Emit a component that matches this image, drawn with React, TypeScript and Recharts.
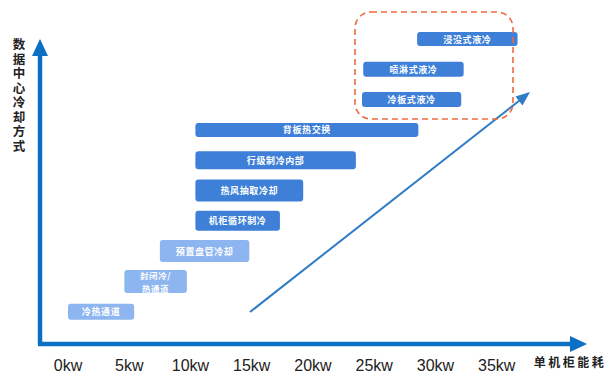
import React from "react";
import {
  BarChart,
  Bar,
  XAxis,
  YAxis,
  Cell,
  LabelList,
  Rectangle,
} from "recharts";

// cooling methods, top row first
const methods = [
  "浸没式液冷",
  "喷淋式液冷",
  "冷板式液冷",
  "背板热交换",
  "行级制冷内部",
  "热风抽取冷却",
  "机柜循环制冷",
  "预置盘管冷却",
  "封闭冷/热通道",
  "冷热通道",
];
// power range per rack (kW) each method covers
const rangeStart = [28.5, 24.1, 24.0, 10.4, 10.4, 10.4, 10.4, 7.5, 4.6, 0];
const rangeEnd = [36.7, 32.3, 32.1, 28.6, 23.5, 19.2, 17.3, 14.8, 9.7, 5.4];
const xTicks = [0, 5, 10, 15, 20, 25, 30, 35];

const data = methods.map((name, i) => ({
  name,
  range: [rangeStart[i], rangeEnd[i]],
}));

const DARK = "#3E7FD8";
const LIGHT = "#8DB5EF";
const AXIS = "#0B70C3";
const lightFrom = 7; // the three older air-flow methods are drawn lighter
const rowThickness = [14, 15, 15, 14, 18, 22, 20, 22, 23, 16];

const BarShape = (props: any) => {
  const { x, y, width, height, index, fill } = props;
  const h = rowThickness[index] ?? height;
  const cy = y + height / 2;
  return (
    <Rectangle
      x={x}
      y={cy - h / 2}
      width={width}
      height={h}
      radius={3}
      fill={fill}
    />
  );
};

const BarLabel = (props: any) => {
  const { x, y, width, height, value } = props;
  const text = String(value);
  let fs = 9;
  const cx = x + width / 2;
  const cy = y + height / 2;
  let lines = [text];
  if (text.length * (fs + 0.6) > width - 6) {
    const cut = Math.ceil(text.length / 2);
    lines = [text.slice(0, cut), text.slice(cut)];
    fs = 8.5;
  }
  const lh = 12.5;
  const top = cy - ((lines.length - 1) * lh) / 2;
  return (
    <g>
      {lines.map((l, i) => (
        <text
          key={i}
          x={cx}
          y={top + i * lh}
          textAnchor="middle"
          dominantBaseline="central"
          fill="#fff"
          fontSize={fs}
          fontWeight={700}
          letterSpacing={0.6}
          fontFamily="'Noto Sans CJK SC', sans-serif"
        >
          {l}
        </text>
      ))}
    </g>
  );
};

const yTitle = "数据中心冷却方式";

export default function App() {
  return (
    <div style={{ position: "absolute", left: 0, top: 0, width: 609, height: 374, background: "#fff" }}>
      <BarChart
        width={609}
        height={374}
        data={data}
        layout="vertical"
        barCategoryGap={0}
        margin={{ top: 24, right: 51, left: 68, bottom: 0 }}
      >
        <XAxis
          type="number"
          domain={[0, 40]}
          ticks={xTicks}
          tickFormatter={(v) => `${v}kw`}
          axisLine={false}
          tickLine={false}
          tickSize={0}
          tickMargin={33}
          height={47}
          interval={0}
          tick={{ fontSize: 16, fill: "#222", fontFamily: "'Liberation Sans', Arial, sans-serif" }}
        />
        <YAxis type="category" dataKey="name" hide width={0} />
        <Bar dataKey="range" isAnimationActive={false} shape={BarShape}>
          {data.map((d, i) => (
            <Cell key={d.name} fill={i >= lightFrom ? LIGHT : DARK} />
          ))}
          <LabelList dataKey="name" content={BarLabel} />
        </Bar>
      </BarChart>

      <svg
        width={609}
        height={374}
        style={{ position: "absolute", left: 0, top: 0, pointerEvents: "none" }}
      >
        {/* axes with arrowheads */}
        <line x1={40} y1={344} x2={40} y2={54} stroke={AXIS} strokeWidth={4.5} />
        <polygon points="32,56 40,39 48,56" fill={AXIS} />
        <line x1={38} y1={344} x2={572} y2={344} stroke={AXIS} strokeWidth={4.5} />
        <polygon points="570,336 587,344 570,352" fill={AXIS} />

        {/* trend arrow */}
        <line x1={250} y1={312} x2={524} y2={97} stroke="#2E7CC6" strokeWidth={2} />
        <polygon points="530,92 515.5,96.5 522.5,105.5" fill="#2E7CC6" />

        {/* liquid cooling highlight */}
        <rect x={355} y={12} width={158} height={107} rx={16} fill="none" stroke="#EF6A3F" strokeWidth={1.6} strokeDasharray="6 4" />

        <text
          x={19}
          y={38}
          fontSize={12.5}
          fontWeight={700}
          fill="#222"
          letterSpacing={2}
          fontFamily="'Noto Sans CJK SC', serif"
          style={{ writingMode: "vertical-rl" }}
        >
          {yTitle}
        </text>
        <text x={570} y={367} fontSize={12} fontWeight={700} fill="#222" textAnchor="middle" letterSpacing={2.5} fontFamily="'Noto Sans CJK SC', serif">
          单机柜能耗
        </text>
      </svg>
    </div>
  );
}
